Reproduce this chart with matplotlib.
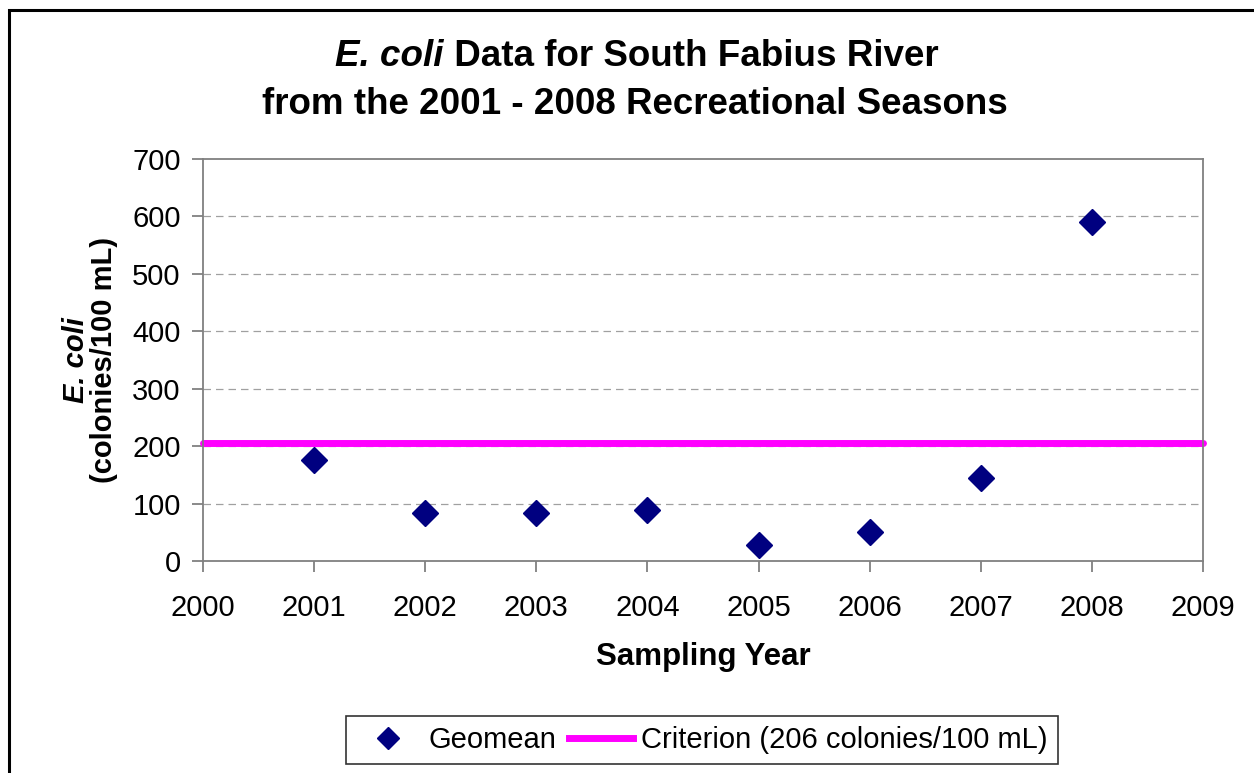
import matplotlib
matplotlib.use("Agg")
import matplotlib.pyplot as plt
from matplotlib.patches import Rectangle
from matplotlib.lines import Line2D

plt.rcParams['font.family'] = ['Liberation Sans', 'DejaVu Sans']

years = [2001, 2002, 2003, 2004, 2005, 2006, 2007, 2008]
geomean = [176, 84, 84, 88, 27, 51, 144, 591]
criterion = 206
xlim = (2000, 2009)
xticks = list(range(2000, 2010))
yticks = list(range(0, 701, 100))

fig = plt.figure(figsize=(12.54, 7.73), dpi=100)
ax = fig.add_axes([203/1254, 1 - 561/773, 1000/1254, 402/773])

# outer frame
fig.patches.append(Rectangle((9/1254, -0.05), 1.2, (773-9)/773 + 0.05 - 0.001,
                             transform=fig.transFigure, fill=False,
                             edgecolor='black', linewidth=2.2))

ax.set_xlim(*xlim)
ax.set_ylim(0, 700)
ax.set_xticks(xticks)
ax.set_yticks(yticks)
for y in yticks[1:-1]:
    ax.axhline(y, color='#a0a0a0', linestyle=(0, (6, 4)), linewidth=0.9, zorder=1)

ax.plot(xlim, [criterion, criterion], color='#ff00ff', linewidth=5, zorder=2,
        solid_capstyle='round', clip_on=False)
ax.plot(years, geomean, linestyle='none', marker='D', markersize=13,
        color='#000080', zorder=3, clip_on=False)

for s in ax.spines.values():
    s.set_color('#808080')
    s.set_linewidth(1.3)
ax.tick_params(axis='both', direction='out', length=8, width=1.3, color='#808080',
               labelsize=21, labelcolor='black')
ax.tick_params(axis='x', pad=16)
ax.tick_params(axis='y', pad=8)

ax.set_xlabel('Sampling Year', fontsize=22.5, fontweight='bold', labelpad=14)

# y label (two lines)
fig.text(76/1254, 1 - 360/773, 'E. coli', rotation=90, ha='center', va='center',
         fontsize=21, fontweight='bold', fontstyle='italic')
fig.text(104/1254, 1 - 360/773, '(colonies/100 mL)', rotation=90, ha='center', va='center',
         fontsize=21, fontweight='bold')

# title
tfs = 26.5
t1a = fig.text(0.0, 0, 'E. coli', fontsize=tfs, fontweight='bold', fontstyle='italic')
t1b = fig.text(0.0, 0, ' Data for South Fabius River', fontsize=tfs, fontweight='bold')
fig.canvas.draw()
r = fig.canvas.get_renderer()
wa = t1a.get_window_extent(r).width
wb = t1b.get_window_extent(r).width
cx = 637
x0 = cx - (wa + wb) / 2
yb = 773 - 57
t1a.set_position((x0/1254, yb/773)); t1a.set_va('center')
t1b.set_position(((x0 + wa)/1254, yb/773)); t1b.set_va('center')
fig.text(635/1254, 1 - 105/773, 'from the 2001 - 2008 Recreational Seasons', ha='center', va='center',
         fontsize=tfs, fontweight='bold')

handles = [Line2D([], [], linestyle='none', marker='D', markersize=11, color='#000080'),
           Line2D([], [], color='#ff00ff', linewidth=5)]
leg = fig.legend(handles, ['Geomean', 'Criterion (206 colonies/100 mL)'],
                 loc='center', bbox_to_anchor=(702/1254, 1 - 740/773), ncol=2,
                 fontsize=21, frameon=True, fancybox=False, edgecolor='black',
                 handlelength=2.2, handletextpad=0.3, columnspacing=0.4,
                 borderpad=0.35)
leg.get_frame().set_linewidth(1.2)

fig.savefig('out.png', dpi=100)
